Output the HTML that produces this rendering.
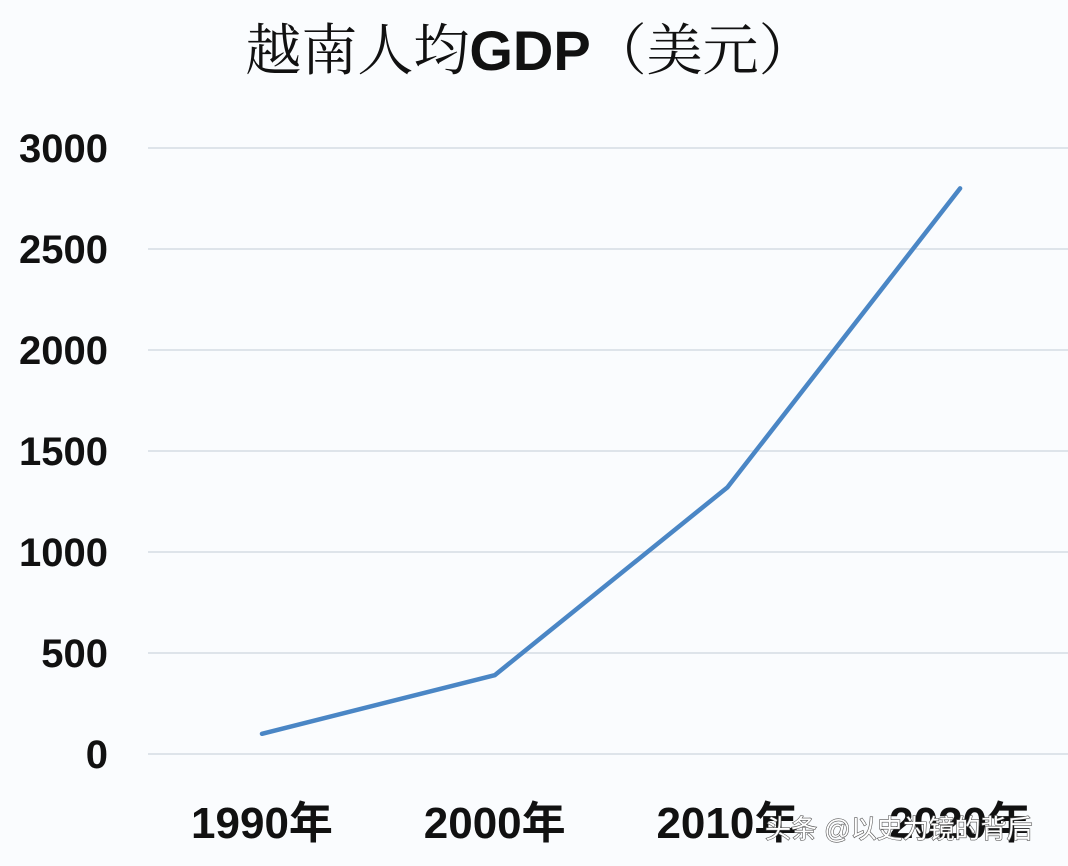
<!DOCTYPE html>
<html><head><meta charset="utf-8">
<style>
html,body{margin:0;padding:0;background:#fafcfe;}
svg{display:block;}
</style></head>
<body>
<svg id="chart" width="1068" height="866" viewBox="0 0 1068 866" xmlns="http://www.w3.org/2000/svg">
<rect x="0" y="0" width="1068" height="866" fill="#fafcfe"/>
<text x="530" y="70" text-anchor="middle" font-size="56" fill="#111"><tspan font-family="'Noto Serif CJK SC', serif">越南人均</tspan><tspan font-family="'Liberation Sans', sans-serif" font-weight="bold">GDP</tspan><tspan font-family="'Noto Serif CJK SC', serif">（美元）</tspan></text>
<g id="grid"></g>
<g id="yticks"></g>
<g id="xticks"></g>
<g id="series"></g>
<text x="765" y="838" font-family="'Liberation Sans','Noto Sans CJK SC',sans-serif" font-size="26" fill="#fff" stroke="#555" stroke-width="1.2" paint-order="stroke">头条 @以史为镜的背后</text>
</svg>
<script>
const categories = ["1990年","2000年","2010年","2020年"];
const values = [100, 390, 1320, 2800];
const yTicks = [0, 500, 1000, 1500, 2000, 2500, 3000];

const NS = "http://www.w3.org/2000/svg";
const y = v => 754 - v * (606 / 3000);
const x = i => 262 + i * 232.7;
function mk(tag, attrs, parent){const e=document.createElementNS(NS,tag);for(const k in attrs)e.setAttribute(k,attrs[k]);parent.appendChild(e);return e;}
const grid=document.getElementById('grid'), yt=document.getElementById('yticks'), xt=document.getElementById('xticks'), ser=document.getElementById('series');
yTicks.forEach(v=>{
  const l=mk('line',{x1:148,x2:1068,y1:y(v),y2:y(v),stroke:'#d5dbe3','stroke-width':1.5},grid);
  
  
  const t=mk('text',{x:108,y:y(v)+14,'text-anchor':'end','font-family':"'Liberation Sans',sans-serif",'font-weight':'bold','font-size':40,fill:'#111'},yt);
  t.textContent=v;
  
  
});
categories.forEach((c,i)=>{
  const t=mk('text',{x:x(i),y:838,'text-anchor':'middle','font-family':"'Liberation Sans','Noto Sans CJK SC',sans-serif",'font-weight':'bold','font-size':44,fill:'#111'},xt);
  t.textContent=c;
  
  
});
const pts=values.map((v,i)=>x(i)+','+y(v)).join(' ');
const pl=mk('polyline',{points:pts,fill:'none',stroke:'#4a86c5','stroke-width':4.5,'stroke-linejoin':'round','stroke-linecap':'round'},ser);


</script>
</body></html>
